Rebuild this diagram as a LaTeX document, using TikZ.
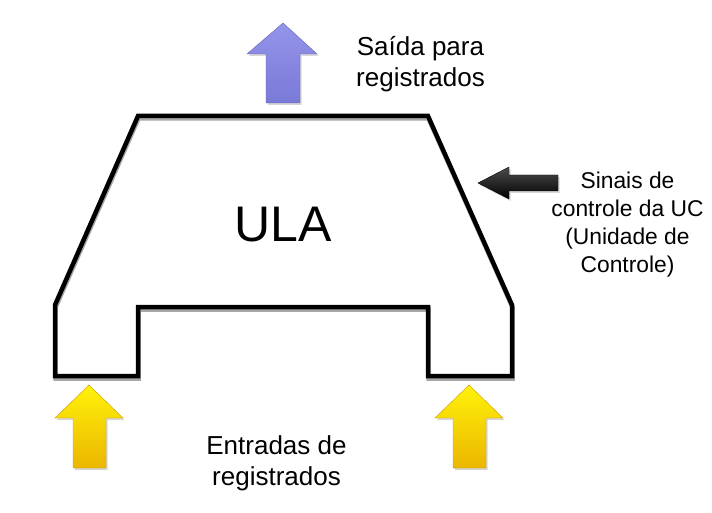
\documentclass[tikz,border=0pt]{standalone}
\usepackage{fontspec}
\setmainfont{Liberation Sans}
\usetikzlibrary{calc}

\definecolor{outTop}{RGB}{148,148,234}
\definecolor{outBot}{RGB}{122,122,216}
\definecolor{inTop}{RGB}{255,242,10}
\definecolor{inBot}{RGB}{235,182,0}

\tikzset{
  ulaline/.style={line width=4.5pt, line join=miter},
  ulashadow/.style={line width=4.5pt, line join=miter, draw=black!35},
  arrshadow/.style={fill=black!45, opacity=0.35},
  outarrow/.style={top color=outTop, bottom color=outBot, draw=outBot!80!black, line width=0.4pt},
  inarrow/.style={top color=inTop, bottom color=inBot, draw=inBot!85!black, line width=0.4pt},
  ctrlarrow/.style={top color=black!70, bottom color=black, draw=black, line width=0.4pt},
  bigtext/.style={inner sep=0pt, font=\fontsize{26}{31}\selectfont, align=center},
  sidetext/.style={inner sep=0pt, font=\fontsize{22.8}{28}\selectfont, align=center}
}

\begin{document}
\begin{tikzpicture}[x=1pt,y=-1pt]
\useasboundingbox (0,0) rectangle (712,513);

% ULA body
\draw[ulashadow, shift={(0.5,2.5)}] (138,116) -- (428,116) -- (512,305) -- (512,376) -- (428,376)
  -- (428,307) -- (138,307) -- (138,376) -- (55,376) -- (55,305) -- cycle;
\draw[ulaline] (138,116) -- (428,116) -- (512,305) -- (512,376) -- (428,376)
  -- (428,307) -- (138,307) -- (138,376) -- (55,376) -- (55,305) -- cycle;
\node[inner sep=0pt, font=\fontsize{50}{60}\selectfont] (ula) at (283.5,225) {ULA};

% saida
\fill[arrshadow, shift={(1.5,2)}] (283,23) -- (317,54) -- (300,54) -- (300,103) -- (266,103) -- (266,54) -- (247,54) -- cycle;
\path[outarrow] (283,23) -- (317,54) -- (300,54) -- (300,103) -- (266,103) -- (266,54) -- (247,54) -- cycle;
\node[bigtext] (saida) at (420.5,64) {Saída para\\registrados};

% entradas
\fill[arrshadow, shift={(1.5,2)}] (89,385) -- (123,418) -- (106,418) -- (106,468) -- (73,468) -- (73,418) -- (55,418) -- cycle;
\path[inarrow] (89,385) -- (123,418) -- (106,418) -- (106,468) -- (73,468) -- (73,418) -- (55,418) -- cycle;
\fill[arrshadow, shift={(1.5,2)}] (469,385) -- (503,418) -- (486,418) -- (486,468) -- (453,468) -- (453,418) -- (435,418) -- cycle;
\path[inarrow] (469,385) -- (503,418) -- (486,418) -- (486,468) -- (453,468) -- (453,418) -- (435,418) -- cycle;
\node[bigtext] (entradas) at (276.5,463.5) {Entradas de\\registrados};

% controle
\fill[arrshadow, shift={(1.5,2)}] (478,183) -- (509,167) -- (509,175) -- (558,175) -- (558,191) -- (509,191) -- (509,199) -- cycle;
\path[ctrlarrow] (478,183) -- (509,167) -- (509,175) -- (558,175) -- (558,191) -- (509,191) -- (509,199) -- cycle;
\node[sidetext] (sinais) at (627.5,224.5) {Sinais de\\controle da UC\\(Unidade de\\Controle)};
\end{tikzpicture}
\end{document}
